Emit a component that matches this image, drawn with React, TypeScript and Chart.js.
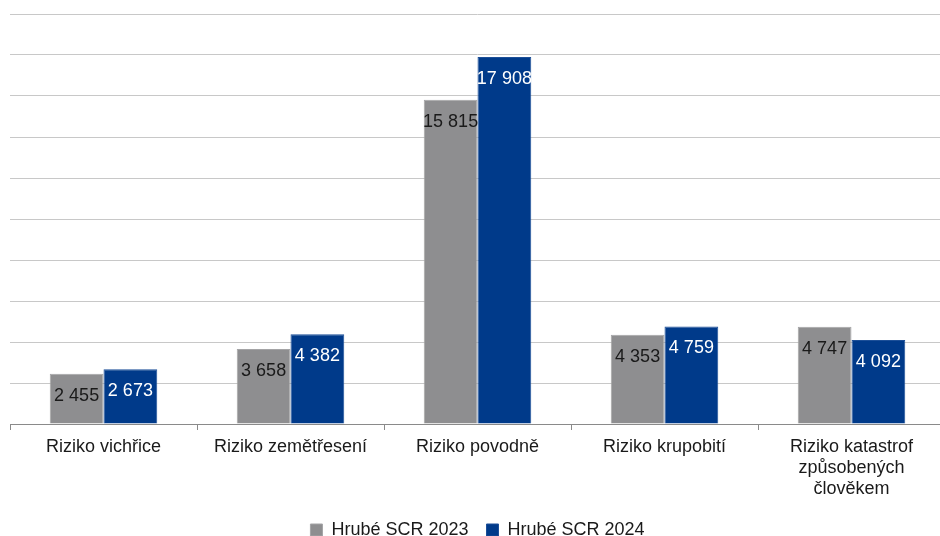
import React, { useEffect, useRef } from "react";
import { Chart, registerables } from "chart.js";

Chart.register(...registerables);

const categories: (string | string[])[] = [
  "Riziko vichřice",
  "Riziko zemětřesení",
  "Riziko povodně",
  "Riziko krupobití",
  ["Riziko katastrof", "způsobených", "člověkem"],
];
const series2023 = [2455, 3658, 15815, 4353, 4747];
const series2024 = [2673, 4382, 17908, 4759, 4092];
const seriesNames = ["Hrubé SCR 2023", "Hrubé SCR 2024"];
const yMin = 0;
const yMax = 20000;
const yStep = 2000;

const FONT = "'Liberation Sans', Arial, sans-serif";

const fmt = (v: number) => String(v).replace(/\B(?=(\d{3})+(?!\d))/g, " ");

const labelPlugin = {
  id: "barLabels",
  afterDatasetsDraw(chart: any) {
    const ctx = chart.ctx;
    ctx.save();
    ctx.font = `18px ${FONT}`;
    ctx.textAlign = "center";
    ctx.textBaseline = "middle";
    chart.data.datasets.forEach((ds: any, di: number) => {
      const meta = chart.getDatasetMeta(di);
      meta.data.forEach((bar: any, i: number) => {
        ctx.fillStyle = di === 0 ? "#1a1a1a" : "#ffffff";
        ctx.fillText(fmt(ds.data[i]), bar.x, bar.y + 22);
      });
    });
    ctx.restore();
  },
};

export default function App() {
  const ref = useRef<HTMLCanvasElement | null>(null);
  useEffect(() => {
    if (!ref.current) return;
    const chart = new Chart(ref.current, {
      type: "bar",
      data: {
        labels: categories,
        datasets: [
          {
            label: seriesNames[0],
            data: series2023,
            backgroundColor: "#8e8e90",
            borderColor: "#a4a4a6",
            borderWidth: 1,
            categoryPercentage: 0.575,
            barPercentage: 1,
          },
          {
            label: seriesNames[1],
            data: series2024,
            backgroundColor: "#003a8a",
            borderColor: "#1c4f98",
            borderWidth: 1,
            categoryPercentage: 0.575,
            barPercentage: 1,
          },
        ],
      },
      options: {
        animation: false,
        responsive: false,
        maintainAspectRatio: false,
        layout: { padding: { left: 10, right: 15, top: 14, bottom: 0 } },
        plugins: {
          tooltip: { enabled: false },
          legend: {
            position: "bottom",
            labels: {
              boxWidth: 12,
              boxHeight: 12,
              padding: 18,
              color: "#1a1a1a",
              font: { family: FONT, size: 18 },
            },
          },
        },
        scales: {
          x: {
            grid: {
              display: true,
              drawOnChartArea: false,
              drawTicks: true,
              tickLength: 6,
              color: "#8a8a8a",
              offset: true,
            },
            border: { display: true, color: "#8a8a8a", width: 1 },
            ticks: {
              color: "#1a1a1a",
              padding: 7,
              maxRotation: 0,
              autoSkip: false,
              font: { family: FONT, size: 18, lineHeight: 1.15 },
            },
            afterFit: (s: any) => {
              s.height = 79;
            },
          },
          y: {
            min: yMin,
            max: yMax,
            ticks: { display: false, stepSize: yStep },
            grid: { color: "#c8c8c8", drawTicks: false, lineWidth: 1 },
            border: { display: false },
            afterFit: (s: any) => {
              s.width = 0;
            },
          },
        },
      },
      plugins: [labelPlugin],
    });
    return () => chart.destroy();
  }, []);
  return (
    <div
      style={{
        position: "absolute",
        left: 0,
        top: 0,
        width: 940,
        height: 536,
        overflow: "hidden",
        background: "#ffffff",
      }}
    >
      <canvas ref={ref} width={960} height={549} style={{ width: 960, height: 549 }} />
    </div>
  );
}
